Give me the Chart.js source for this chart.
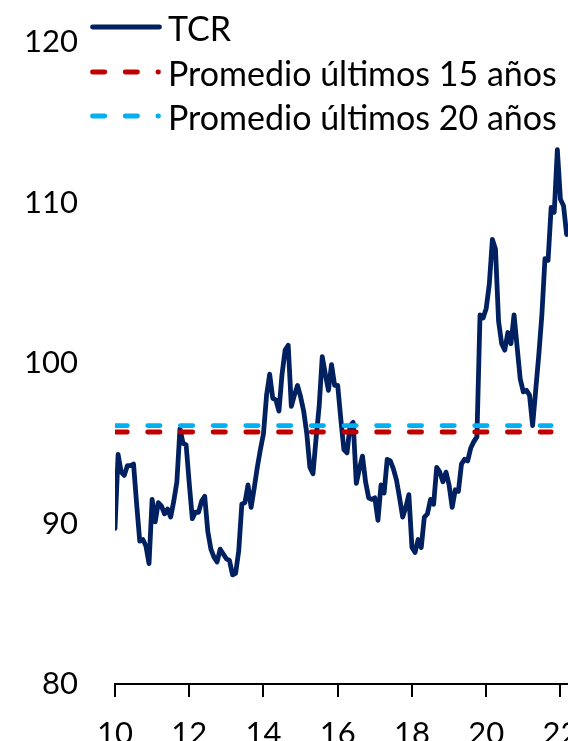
<!DOCTYPE html>
<html lang="es">
<head>
<meta charset="utf-8">
<title>TCR</title>
<script src="https://cdn.jsdelivr.net/npm/chart.js@4.4.0/dist/chart.umd.min.js"></script>
<style>
  html, body { margin: 0; padding: 0; overflow: hidden; background: #fff; }
  #wrap { position: relative; width: 568px; height: 741px; overflow: hidden; }
  #grafico { position: absolute; left: 0; top: 0; }
  #leyenda { position: absolute; left: 0; top: 0; }
  #leyenda text { font-family: Lato, "Open Sans", sans-serif; font-size: 34px; fill: #000; }
</style>
</head>
<body>
<div id="wrap">
  <canvas id="grafico" width="600" height="770"></canvas>
  <svg id="leyenda" width="568" height="140"></svg>
</div>
<script>
// TCR mensual desde ene-2010
const tcr = [
  89.7, 94.3, 93.2, 93.0, 93.6, 93.6, 93.7, 91.2, 88.9, 89.0, 88.6, 87.5,
  91.5, 90.1, 91.3, 91.1, 90.6, 90.9, 90.4, 91.4, 92.6, 95.9, 95.0, 94.9,
  92.5, 90.3, 90.7, 90.7, 91.4, 91.7, 89.5, 88.4, 87.9, 87.6, 88.4, 88.1,
  87.8, 87.7, 86.8, 86.9, 88.3, 91.2, 91.3, 92.4, 91.0, 92.2, 93.5, 94.6,
  95.6, 98.0, 99.3, 97.8, 97.7, 97.0, 99.3, 100.8, 101.1, 97.3, 98.0, 98.6,
  97.9, 97.0, 95.6, 93.5, 93.1, 95.3, 97.3, 100.4, 99.3, 98.3, 99.9, 98.6,
  98.6, 96.5, 94.6, 94.4, 96.1, 96.3, 92.5, 93.4, 94.2, 92.6, 91.6, 91.5,
  91.6, 90.2, 92.4, 91.9, 94.0, 93.9, 93.4, 92.7, 91.6, 90.4, 91.0, 91.8,
  88.5, 88.2, 89.0, 88.5, 90.4, 90.6, 91.5, 91.2, 93.5, 93.2, 92.6, 93.2,
  92.4, 91.0, 92.1, 92.0, 93.7, 94.0, 93.9, 94.7, 95.1, 95.4, 103.0, 102.8,
  103.4, 104.9, 107.7, 107.1, 102.6, 101.2, 100.8, 101.9, 101.2, 103.0, 101.0, 99.0,
  98.2, 98.3, 98.0, 96.1, 98.3, 100.5, 103.0, 106.5, 106.4, 109.7, 109.4, 113.3,
  110.2, 109.8, 108.0
];
const promedio15 = 95.7;
const promedio20 = 96.1;
const anioInicio = 2010;
const mesesPromedio = 141;   // meses cubiertos por las líneas de promedio
const etiquetasX = ['10', '12', '14', '16', '18', '20', '22'];

const fuente = 'Lato, "Open Sans", sans-serif';
const dash = [12.3, 20.4];

const puntosTcr = tcr.map((v, i) => ({ x: anioInicio + i / 12, y: v }));
const lineaPromedio = v => [
  { x: anioInicio, y: v },
  { x: anioInicio + mesesPromedio / 12, y: v }
];

const series = [
  { label: 'TCR', data: puntosTcr, borderColor: '#002060', borderDash: [], order: 3 },
  { label: 'Promedio últimos 15 años', data: lineaPromedio(promedio15), borderColor: '#C00000', borderDash: dash, order: 2 },
  { label: 'Promedio últimos 20 años', data: lineaPromedio(promedio20), borderColor: '#00B0F0', borderDash: dash, order: 1 }
];

Chart.defaults.font.family = fuente;
Chart.defaults.font.size = 31;
Chart.defaults.color = '#000';

new Chart(document.getElementById('grafico'), {
  type: 'line',
  data: {
    datasets: series.map(s => ({
      label: s.label,
      data: s.data,
      borderColor: s.borderColor,
      borderDash: s.borderDash,
      borderWidth: 4.8,
      borderCapStyle: 'round',
      borderJoinStyle: 'round',
      pointRadius: 0,
      tension: 0,
      fill: false,
      order: s.order
    }))
  },
  options: {
    responsive: false,
    animation: false,
    layout: { padding: { top: 42, right: 21, bottom: 16, left: 0 } },
    plugins: { legend: { display: false }, tooltip: { enabled: false } },
    scales: {
      x: {
        type: 'linear',
        min: 2010,
        max: 2022.5,
        afterFit: s => { s.height = 70; },
        border: { display: true, color: '#000', width: 2 },
        grid: { display: true, drawOnChartArea: false, drawTicks: true, tickLength: 13, color: '#000', lineWidth: 2 },
        ticks: {
          stepSize: 2,
          includeBounds: false,
          maxRotation: 0,
          autoSkip: false,
          padding: 18,
          callback: v => {
            const k = (v - anioInicio) / 2;
            return Number.isInteger(k) ? etiquetasX[k] : null;
          }
        }
      },
      y: {
        min: 80,
        max: 120,
        // ancho fijo del eje y sin margen extra arriba/abajo
        afterFit: s => { s.width = 115; s.paddingTop = 0; s.paddingBottom = 0; },
        border: { display: false },
        grid: { display: false, drawTicks: false },
        ticks: { stepSize: 10, padding: 37 }
      }
    }
  }
});

// leyenda dentro del área del gráfico
const svg = document.getElementById('leyenda');
const ns = 'http://www.w3.org/2000/svg';
const filas = [27, 72, 116];
series.forEach((s, i) => {
  const ln = document.createElementNS(ns, 'line');
  ln.setAttribute('x1', 92.5);
  ln.setAttribute('x2', s.borderDash.length ? 158.5 : 159.5);
  ln.setAttribute('y1', filas[i]);
  ln.setAttribute('y2', filas[i]);
  ln.setAttribute('stroke', s.borderColor);
  ln.setAttribute('stroke-width', 4.8);
  ln.setAttribute('stroke-linecap', 'round');
  if (s.borderDash.length) ln.setAttribute('stroke-dasharray', s.borderDash.join(' '));
  svg.appendChild(ln);
  const t = document.createElementNS(ns, 'text');
  t.setAttribute('x', 168);
  t.setAttribute('y', filas[i]);
  t.setAttribute('dominant-baseline', 'central');
  t.textContent = s.label;
  svg.appendChild(t);
});
</script>
</body>
</html>
